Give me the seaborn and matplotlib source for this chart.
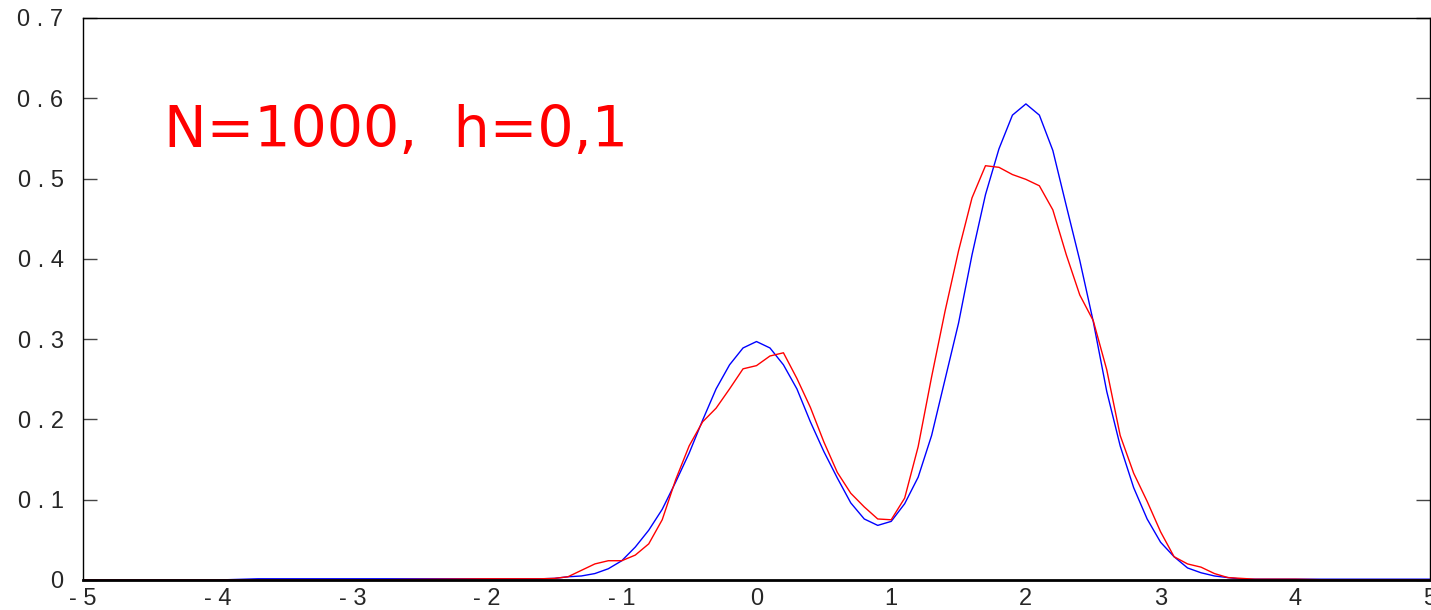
"""
Estimation de densite par noyau : comparaison densite vraie / estimation.

Figure produite : out.png (1431 x 610 px)
"""

import matplotlib.pyplot as plt
import pandas as pd
import seaborn as sns

# -- Donnees (pas de 0,1 sur la zone utile) -----------------------------------
x_centre = [
    -1.5, -1.4, -1.3, -1.2, -1.1, -1.0, -0.9, -0.8, -0.7, -0.6, -0.5, -0.4, -0.3,
    -0.2, -0.1, 0.0, 0.1, 0.2, 0.3, 0.4, 0.5, 0.6, 0.7, 0.8, 0.9, 1.0, 1.1, 1.2,
    1.3, 1.4, 1.5, 1.6, 1.7, 1.8, 1.9, 2.0, 2.1, 2.2, 2.3, 2.4, 2.5, 2.6, 2.7,
    2.8, 2.9, 3.0, 3.1, 3.2, 3.3, 3.4, 3.5, 3.6,
]
densite_vraie = [
    0.002, 0.004, 0.005, 0.008, 0.014, 0.024, 0.041, 0.062, 0.088, 0.122, 0.158,
    0.199, 0.238, 0.268, 0.289, 0.297, 0.289, 0.268, 0.238, 0.197, 0.160, 0.127,
    0.096, 0.076, 0.068, 0.073, 0.095, 0.128, 0.180, 0.250, 0.320, 0.405, 0.480,
    0.537, 0.579, 0.593, 0.579, 0.535, 0.466, 0.398, 0.322, 0.235, 0.167, 0.115,
    0.076, 0.047, 0.029, 0.015, 0.009, 0.005, 0.003, 0.001,
]
densite_estimee = [
    0.002, 0.004, 0.012, 0.020, 0.024, 0.024, 0.031, 0.045, 0.075, 0.125, 0.167,
    0.197, 0.214, 0.238, 0.263, 0.267, 0.279, 0.283, 0.251, 0.215, 0.172, 0.134,
    0.108, 0.091, 0.076, 0.075, 0.102, 0.166, 0.253, 0.335, 0.410, 0.476, 0.516,
    0.514, 0.505, 0.499, 0.491, 0.461, 0.405, 0.355, 0.323, 0.262, 0.180, 0.133,
    0.098, 0.060, 0.029, 0.020, 0.016, 0.008, 0.003, 0.002,
]

# queues (quasi nulles)
x_queue_gauche = [-5.0, -4.0, -3.7, -3.0, -2.0, -1.6]
vraie_queue_gauche = [0.0, 0.0, 0.0015, 0.0015, 0.0015, 0.0015]
estimee_queue_gauche = [0.0, 0.0, 0.0, 0.0, 0.0015, 0.0015]

x_queue_droite = [3.7, 4.0, 4.3, 5.0]
vraie_queue_droite = [0.001, 0.001, 0.001, 0.001]
estimee_queue_droite = [0.001, 0.001, 0.0, 0.0]

x_ticks = [-5, -4, -3, -2, -1, 0, 1, 2, 3, 4, 5]
x_tick_labels = ["- 5", "- 4", "- 3", "- 2", "- 1", "0", "1", "2", "3", "4", "5"]
y_ticks = [0.0, 0.1, 0.2, 0.3, 0.4, 0.5, 0.6, 0.7]
y_tick_labels = ["0", "0 . 1", "0 . 2", "0 . 3", "0 . 4", "0 . 5", "0 . 6", "0 . 7"]

titre = "N=1000,  h=0,1"


def build_frame() -> pd.DataFrame:
    """Assemble les deux courbes en format long pour seaborn."""
    x_all = x_queue_gauche + x_centre + x_queue_droite
    vraie = vraie_queue_gauche + densite_vraie + vraie_queue_droite
    estimee = estimee_queue_gauche + densite_estimee + estimee_queue_droite
    return pd.concat(
        [
            pd.DataFrame({"x": x_all, "y": vraie, "courbe": "vraie"}),
            pd.DataFrame({"x": x_all, "y": estimee, "courbe": "estimee"}),
        ],
        ignore_index=True,
    )


def plot_kde(df: pd.DataFrame, save_path: str = "out.png") -> None:
    sns.set_style("white")
    plt.rcParams["font.family"] = ["Liberation Sans", "DejaVu Sans"]

    fig = plt.figure(figsize=(14.31, 6.10), dpi=100)
    ax = fig.add_axes([0.058, 0.0492, 0.9413, 0.9213])

    sns.lineplot(
        data=df,
        x="x",
        y="y",
        hue="courbe",
        hue_order=["vraie", "estimee"],
        palette={"vraie": "#0000ff", "estimee": "#ff0000"},
        linewidth=1.0,
        legend=False,
        ax=ax,
    )

    ax.set_xlim(-5, 5)
    ax.set_ylim(0, 0.7)
    ax.set_xlabel("")
    ax.set_ylabel("")

    ax.set_xticks(x_ticks)
    ax.set_xticklabels(x_tick_labels)
    ax.set_yticks(y_ticks)
    ax.set_yticklabels(y_tick_labels)

    # -- Graduations vers l'interieur, style gnuplot ---------------------------
    ax.tick_params(axis="x", direction="in", length=6, width=1, color="#555555",
                   labelsize=17, pad=6, top=False)
    ax.tick_params(axis="y", direction="in", length=10, width=1, color="#444444",
                   labelsize=17, pad=14, left=True, right=True)

    for side in ["left", "top", "right"]:
        ax.spines[side].set_color("black")
        ax.spines[side].set_linewidth(1.0)
    ax.spines["bottom"].set_color("black")
    ax.spines["bottom"].set_linewidth(2.0)

    ax.text(
        0.060, 0.771, titre,
        transform=ax.transAxes,
        color="#ff0000",
        fontsize=41,
        family=["DejaVu Sans"],
        va="baseline",
        ha="left",
    )

    fig.savefig(save_path, dpi=100)
    plt.close(fig)


if __name__ == "__main__":
    plot_kde(build_frame())
